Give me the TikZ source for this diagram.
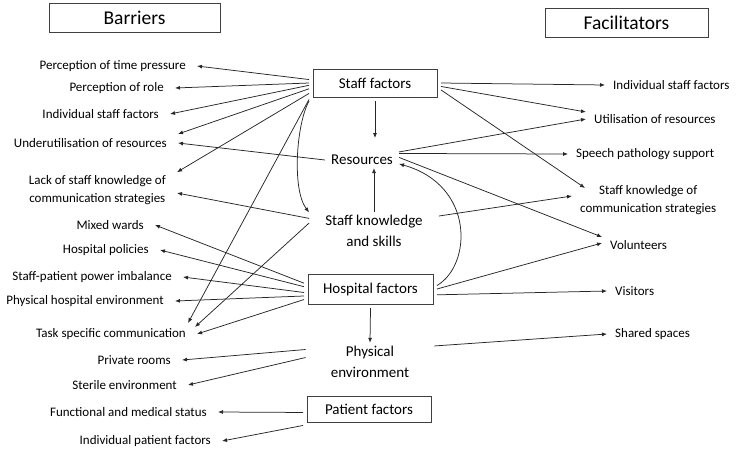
\documentclass[tikz,border=0pt]{standalone}
\usepackage{fontspec}
\setmainfont{Carlito}
\usetikzlibrary{arrows.meta}
\tikzset{
    factorbox/.style={draw=black!75, line width=0.8pt, minimum width=124pt, minimum height=28pt, inner sep=0pt, outer sep=4pt, font=\fontsize{15}{18}\selectfont},
    titlebox/.style={draw=black!75, line width=0.8pt, minimum height=29pt, inner sep=0pt, font=\fontsize{19.5}{22}\selectfont},
    hubtext/.style={align=center, inner ysep=3pt, font=\fontsize{15}{21.5}\selectfont},
    barrier/.style={anchor=east, align=center, inner xsep=11pt, inner ysep=3pt, font=\fontsize{13}{18}\selectfont},
    facil/.style={anchor=west, align=center, inner xsep=8pt, inner ysep=3pt, font=\fontsize{13}{18}\selectfont},
    link/.style={-{Latex[length=5pt,width=4pt]}, line width=0.75pt, draw=black!85},
}
\begin{document}
\begin{tikzpicture}[x=1pt,y=-1pt]
        \useasboundingbox (0,0) rectangle (736,448);

        \node[titlebox, minimum width=171pt] (bar) at (134.5,17.5) {Barriers};
        \node[titlebox, minimum width=163pt] (fac) at (626.5,22.5) {Facilitators};

        \node[factorbox] (sf) at (375,83) {Staff factors};
        \node[hubtext, inner xsep=6pt] (res) at (362,160) {Resources};
        \node[hubtext, inner xsep=16pt] (sks) at (374,231) {Staff knowledge\\and skills};
        \node[factorbox, minimum width=125pt, minimum height=30pt] (hf) at (370.5,289) {Hospital factors};
        \node[hubtext, inner xsep=25pt] (pe) at (370,362) {Physical\\environment};
        \node[factorbox, minimum height=26pt] (pf) at (369,409) {Patient factors};
        \coordinate (restop) at (375,138);

        \node[barrier] (ptp) at (197,66) {Perception of time pressure};
        \node[barrier] (por) at (175,88) {Perception of role};
        \node[barrier] (isfl) at (170,114) {Individual staff factors};
        \node[barrier] (ur) at (178,143) {Underutilisation of resources};
        \node[barrier] (lsk) at (177,190) {Lack of staff knowledge of\\communication strategies};
        \node[barrier] (mw) at (155,225) {Mixed wards};
        \node[barrier] (hp) at (160,250) {Hospital policies};
        \node[barrier] (spi) at (183,277) {Staff-patient power imbalance};
        \node[barrier] (phe) at (175,301) {Physical hospital environment};
        \node[barrier] (tsc) at (197,334) {Task specific communication};
        \node[barrier] (pr) at (182,360) {Private rooms};
        \node[barrier] (se) at (188,385) {Sterile environment};
        \node[barrier] (fms) at (218,412) {Functional and medical status};
        \node[barrier] (ipf) at (222,441) {Individual patient factors};

        \node[facil] (isfr) at (605,85) {Individual staff factors};
        \node[facil] (uor) at (586,119) {Utilisation of resources};
        \node[facil] (sps) at (568,154) {Speech pathology support};
        \node[facil] (skc) at (572,200) {Staff knowledge of\\communication strategies};
        \node[facil] (vol) at (602,245) {Volunteers};
        \node[facil] (vis) at (607,291) {Visitors};
        \node[facil] (ssp) at (607,334) {Shared spaces};

        \draw[link] (sf.177) -- (ptp.east);
        \draw[link] (sf.180) -- (por.east);
        \draw[link] (sf.182) -- (isfl.east);
        \draw[link] (sf.185) -- ([yshift=9pt]ur.east);
        \draw[link] (sf.189) -- (lsk.north east);
        \draw[link] (sf.194) -- ([xshift=-9pt,yshift=11pt]tsc.east);
        \draw[link] (sf.south west) .. controls (296,125) and (292,190) .. (sks.164);
        \draw[link] (sf.south) -- (restop);
        \draw[link] (sf.east) -- (isfr.west);
        \draw[link] (sf.357) -- ([yshift=7pt]uor.west);
        \draw[link] (sf.354) -- ([xshift=13pt,yshift=12pt]skc.west);

        \draw[link] (res.west) -- (ur.east);
        \draw[link] (res.north east) -- (uor.west);
        \draw[link] (res.10) -- (sps.west);
        \draw[link] (res.4) -- ([yshift=8pt]vol.west);

        \draw[link] (sks.north) -- (sks.north |- res.south);
        \draw[link] (sks.169) -- ([yshift=-3pt]lsk.east);
        \draw[link] (sks.173) -- ([xshift=-2pt,yshift=7pt]tsc.east);
        \draw[link] (sks.13) -- ([yshift=4pt]skc.west);

        \draw[link] (hf.175) -- (mw.east);
        \draw[link] (hf.178) -- (hp.east);
        \draw[link] (hf.183) -- (spi.east);
        \draw[link] (hf.186) -- (phe.east);
        \draw[link] (hf.189) -- (tsc.east);
        \draw[link] (hf.3) .. controls (472,265) and (475,185) .. (res.-6);
        \draw[link] (hf.east) -- ([yshift=2pt]vol.west);
        \draw[link] (hf.355) -- (vis.west);
        \draw[link] (hf.south) -- (pe.north);

        \draw[link] (pe.169) -- (pr.east);
        \draw[link] (pe.176) -- (se.east);
        \draw[link] (pe.14) -- (ssp.west);

        \draw[link] (pf.183) -- (fms.east);
        \draw[link] (pf.194) -- (ipf.east);

    \end{tikzpicture}
\end{document}
